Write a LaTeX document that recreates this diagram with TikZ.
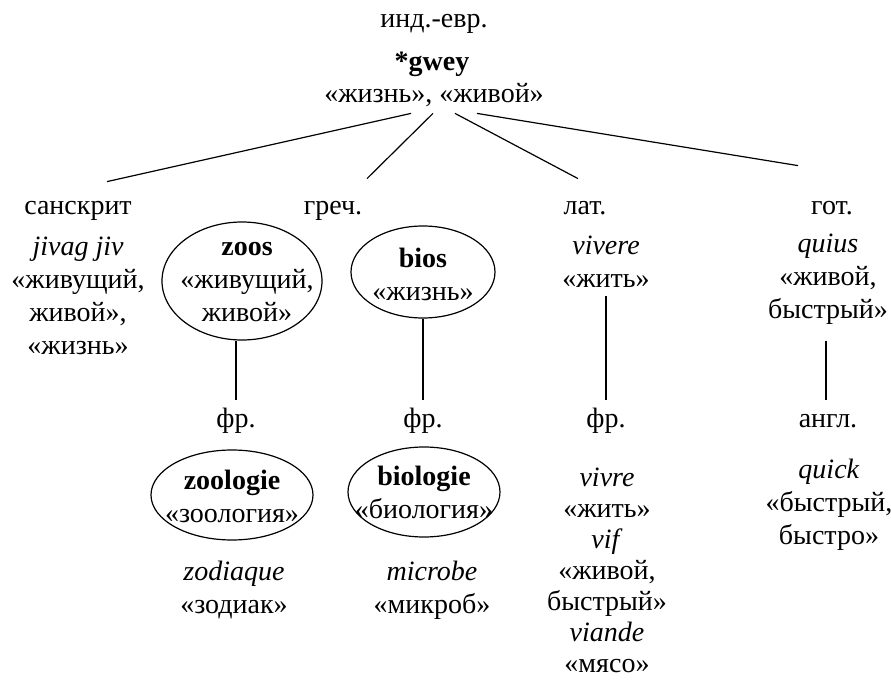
\documentclass[tikz,border=0pt]{standalone}
\usepackage{fontspec}
\setmainfont{Liberation Serif}
\usetikzlibrary{shapes.geometric}
\begin{document}
\begin{tikzpicture}[x=0.5pt,y=-0.5pt,
  every node/.style={font=\fontsize{14}{16.5}\selectfont},
  lab/.style={inner sep=0pt, text height=10pt, text depth=3pt},
  txt/.style={inner sep=0pt, align=center},
  oval/.style={draw, ellipse, inner sep=0pt, line width=0.6pt},
  con/.style={line width=0.6pt}]
\useasboundingbox (0,0) rectangle (891,680);
% root
\node[lab] (ie) at (434,20) {инд.-евр.};
\node[lab] (gwey) at (432,63) {\textbf{*gwey}};
\node[lab] (gloss) at (434,95) {«жизнь», «живой»};
% branch labels
\node[lab] (skt) at (78,207) {санскрит};
\node[lab] (gr) at (333,207) {греч.};
\node[lab] (lat) at (585,207) {лат.};
\node[lab] (got) at (832,207) {гот.};
% sanskrit
\node[txt] (sktw) at (78,296) {\textit{jivag jiv}\\«живущий,\\живой»,\\«жизнь»};
% greek
\node[oval, minimum width=80pt, minimum height=59pt] (zoosE) at (242,281) {};
\node[txt] (zoos) at (247,282) {\textbf{zoos}\\«живущий,\\живой»};
\node[oval, minimum width=72pt, minimum height=46pt] (biosE) at (423,272) {};
\node[txt] (bios) at (423,274) {\textbf{bios}\\«жизнь»};
% latin
\node[txt] (latw) at (606,262) {\textit{vivere}\\«жить»};
% gothic
\node[txt] (gotw) at (828,279) {\textit{quius}\\«живой,\\быстрый»};
% second level
\node[lab] (fr1) at (236,420) {фр.};
\node[lab] (fr2) at (423,420) {фр.};
\node[lab] (fr3) at (606,420) {фр.};
\node[lab] (en) at (828,420) {англ.};
\node[oval, minimum width=81pt, minimum height=45pt] (zoolE) at (232,495) {};
\node[txt] (zool) at (232,496) {\textbf{zoologie}\\«зоология»};
\node[oval, minimum width=76pt, minimum height=45pt] (biolE) at (424,492) {};
\node[txt] (biol) at (424,492) {\textbf{biologie}\\«биология»};
\node[txt] (zod) at (234,590) {\textit{zodiaque}\\«зодиак»};
\node[txt] (mic) at (432,590) {\textit{microbe}\\«микроб»};
\node[txt, font=\fontsize{14}{15.5}\selectfont] (frw) at (607,570) {\textit{vivre}\\«жить»\\\textit{vif}\\«живой,\\быстрый»\\\textit{viande}\\«мясо»};
\node[txt] (enw) at (829,505) {\textit{quick}\\«быстрый,\\быстро»};
% connectors from root
\draw[con] ([xshift=-11.5pt,yshift=-2.5pt]gloss.south) -- ([xshift=14.5pt,yshift=6pt]skt.north);
\draw[con] ([xshift=-0.5pt,yshift=-2.5pt]gloss.south) -- ([xshift=17pt,yshift=7.5pt]gr.north);
\draw[con] ([xshift=10.5pt,yshift=-2.5pt]gloss.south) -- ([xshift=-3.5pt,yshift=7.5pt]lat.north);
\draw[con] ([xshift=21.5pt,yshift=-2.5pt]gloss.south) -- ([xshift=-17pt,yshift=14pt]got.north);
% vertical connectors
\draw[con] ([xshift=-3pt]zoosE.south) -- ([yshift=3.5pt]fr1.north);
\draw[con] (biosE.south) -- ([yshift=3.5pt]fr2.north);
\draw[con] ([yshift=-4pt]latw.south) -- ([yshift=3.5pt]fr3.north);
\draw[con] ([xshift=-1pt,yshift=-8pt]gotw.south) -- ([xshift=-1pt,yshift=3.5pt]en.north);
\end{tikzpicture}
\end{document}
